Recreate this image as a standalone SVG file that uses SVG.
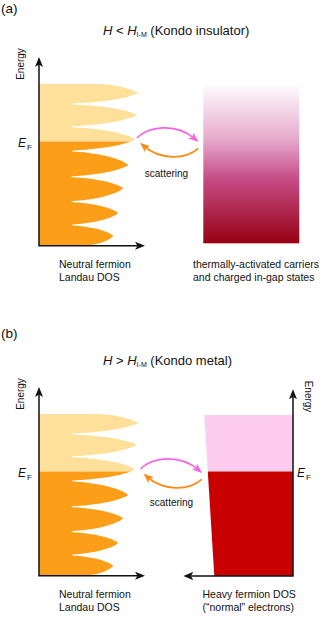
<svg xmlns="http://www.w3.org/2000/svg" width="324" height="641" viewBox="0 0 324 641">
<style>
text{font-family:"Liberation Sans",Arial,sans-serif;fill:#111}
.lbl{font-size:10.5px}
.sc{font-size:10px;text-anchor:middle}
.en{font-size:10px;text-anchor:middle}
.ef{font-size:12px}
.ttl{font-size:13px}
.pn{font-size:13.5px}
.ax{fill:none;stroke:#111;stroke-width:1.5;marker-start:url(#ah);marker-end:url(#ah)}
.pk{fill:none;stroke:#F863E3;stroke-width:1.7;marker-end:url(#hp)}
.or{fill:none;stroke:#FF8A17;stroke-width:1.7;marker-end:url(#ho)}
.light{fill:#FFE09A}
.dark{fill:#FD9E18}
</style>
<defs>
<marker id="ah" markerUnits="userSpaceOnUse" viewBox="0 0 10 8" refX="5" refY="4" markerWidth="10" markerHeight="8" orient="auto-start-reverse"><path d="M0,0 L10,4 L0,8 L2.5,4 Z" fill="#111"/></marker>
<marker id="hp" markerUnits="userSpaceOnUse" viewBox="0 0 10 8" refX="5" refY="4" markerWidth="10" markerHeight="8" orient="auto"><path d="M0,0 L10,4 L0,8 L2.5,4 Z" fill="#F863E3"/></marker>
<marker id="ho" markerUnits="userSpaceOnUse" viewBox="0 0 10 8" refX="5" refY="4" markerWidth="10" markerHeight="8" orient="auto"><path d="M0,0 L10,4 L0,8 L2.5,4 Z" fill="#FF8A17"/></marker>
<path id="dos" d="M39,84 H98 C112,84 128.2,87.9 138.3,92.7
C128.2,98.9 94.6,102.9 73,103.4 Q70,104 73,104.6
C94,105.1 126.8,108.95 136.7,115
C126.8,121.4 94,125.5 73,126.1 Q70,126.7 73,127.3
C93.4,128 125.4,132.4 135,139.3
C125.4,145.7 93.4,149.8 73,150.4 Q70,151 73,151.6
C91,152.4 119.7,157.3 128.3,165
C119.7,171.4 91,175.5 73,176.1 Q70,176.7 73,177.3
C89.3,177.9 115.5,181.9 123.3,188.3
C115.5,195.7 89.3,200.4 73,201.1 Q70,201.7 73,202.3
C87.6,202.8 111.2,206.8 118.3,213
C111.2,219.6 87.6,223.8 73,224.4 Q70,225 73,225.6
C85.8,226.1 107,229.95 113.3,236
C107,242 95,245.7 80,245.7 L39,245.7 Z"/>
<clipPath id="cUp"><rect x="0" y="0" width="200" height="141.5"/></clipPath>
<clipPath id="cDn"><rect x="0" y="141.5" width="200" height="200"/></clipPath>
<linearGradient id="gr" x1="0" y1="0" x2="0" y2="1">
<stop offset="0" stop-color="#FFFFFF"/>
<stop offset="0.35" stop-color="#E6AACD"/>
<stop offset="0.6" stop-color="#C64C86"/>
<stop offset="1" stop-color="#960012"/>
</linearGradient>
</defs>

<text class="pn" x="1" y="12.5">(a)</text>
<text class="ttl" x="103" y="34.5"><tspan font-style="italic">H</tspan> &lt; <tspan font-style="italic">H</tspan><tspan font-size="7" dy="2">I-M</tspan><tspan dy="-2"> (Kondo insulator)</tspan></text>

<g id="a-neutral">
<use href="#dos" class="light" clip-path="url(#cUp)"/>
<use href="#dos" class="dark" clip-path="url(#cDn)"/>
<path class="ax" d="M39,62 V245.7 H140"/>
<text class="en" transform="translate(23.5,64) rotate(-90)">Energy</text>
<text class="ef" x="18" y="147"><tspan font-style="italic">E</tspan><tspan font-size="8" dx="1" dy="2.5">F</tspan></text>
<text class="lbl" x="59" y="268.3">Neutral fermion</text>
<text class="lbl" x="59" y="280.7">Landau DOS</text>
</g>

<g id="a-carriers">
<rect x="203.3" y="83" width="96" height="160.3" fill="url(#gr)"/>
<text class="lbl" x="193" y="268.3">thermally-activated carriers</text>
<text class="lbl" x="193" y="280.7">and charged in-gap states</text>
</g>

<g id="a-connectors">
<path class="pk" d="M137,138 C148,127 175,122 194.7,138.7"/>
<path class="or" d="M198.3,148.3 C185,160 160,160 143.8,146"/>
<text class="sc" x="166.5" y="176.5">scattering</text>
</g>

<text class="pn" x="1" y="338">(b)</text>
<text class="ttl" x="103" y="364.5"><tspan font-style="italic">H</tspan> &gt; <tspan font-style="italic">H</tspan><tspan font-size="7" dy="2">I-M</tspan><tspan dy="-2"> (Kondo metal)</tspan></text>

<g id="b-neutral" transform="translate(0,330)">
<use href="#dos" class="light" clip-path="url(#cUp)"/>
<use href="#dos" class="dark" clip-path="url(#cDn)"/>
<path class="ax" d="M39,62 V245.7 H140"/>
<text class="en" transform="translate(23.5,64) rotate(-90)">Energy</text>
<text class="ef" x="18" y="147"><tspan font-style="italic">E</tspan><tspan font-size="8" dx="1" dy="2.5">F</tspan></text>
<text class="lbl" x="59" y="268.3">Neutral fermion</text>
<text class="lbl" x="59" y="280.7">Landau DOS</text>
</g>

<g id="b-heavy">
<polygon points="204.3,415 293,415 293,471.5 207.8,471.5" fill="#FECCEF"/>
<polygon points="207.8,471.5 293,471.5 293,576 214.3,576" fill="#C80000"/>
<path class="ax" d="M293,394.3 V576 H188.3"/>
<text class="en" transform="translate(304.5,396.5) rotate(90)">Energy</text>
<text class="ef" x="297" y="477"><tspan font-style="italic">E</tspan><tspan font-size="8" dx="1" dy="2.5">F</tspan></text>
<text class="lbl" x="202.5" y="598.3">Heavy fermion DOS</text>
<text class="lbl" x="202.5" y="610.7">(“normal” electrons)</text>
</g>

<g id="b-connectors" transform="translate(3.5,331)">
<path class="pk" d="M137,138 C148,127 175,122 194.7,138.7"/>
<path class="or" d="M198.3,148.3 C185,160 160,160 143.8,146"/>
</g>
<text class="sc" x="171.5" y="506">scattering</text>
</svg>
